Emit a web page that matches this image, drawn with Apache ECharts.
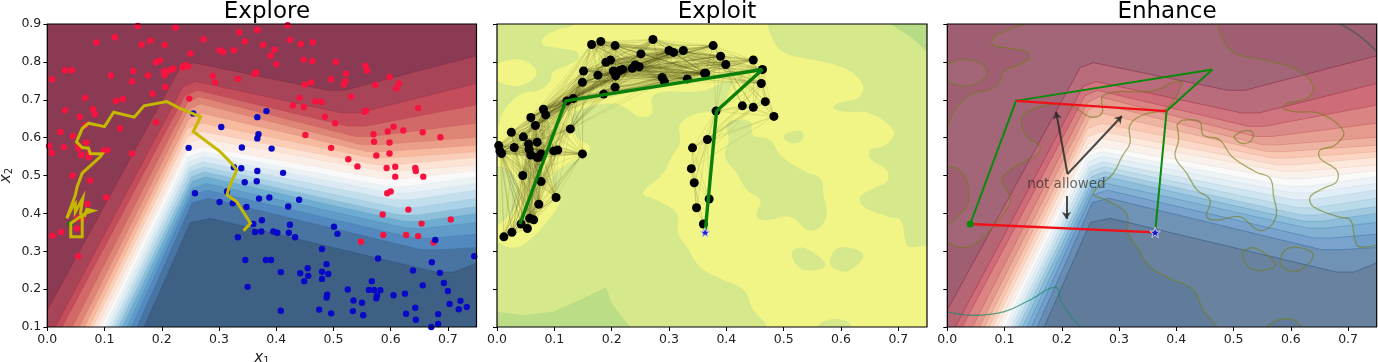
<!DOCTYPE html>
<html><head><meta charset="utf-8">
<style>html,body{margin:0;padding:0;background:#fff}#c{width:1378px;height:362px}</style>
<script src="https://cdn.jsdelivr.net/npm/echarts@6/dist/echarts.min.js"></script>
</head><body><div id="c"></div>
<script>
const titles = ['Explore', 'Exploit', 'Enhance'];
const xTicks = [0, 0.1, 0.2, 0.3, 0.4, 0.5, 0.6, 0.7];
const yTicks = [0.1, 0.2, 0.3, 0.4, 0.5, 0.6, 0.7, 0.8, 0.9];

// decision-surface contour lines, read level by level (red side to blue side)
const surfaceContours = [
 [[0,.145],[.232,.785],[.255,.798],[.49,.725],[.52,.725],[.75,.816]],
 [[.014,.1],[.237,.735],[.26,.748],[.514,.665],[.544,.665],[.75,.743]],
 [[.026,.1],[.24,.71],[.262,.725],[.525,.63],[.555,.63],[.75,.686]],
 [[.044,.1],[.245,.693],[.265,.708],[.538,.603],[.568,.603],[.75,.638]],
 [[.056,.1],[.247,.674],[.268,.689],[.55,.581],[.58,.581],[.75,.601]],
 [[.065,.1],[.248,.65],[.27,.664],[.559,.563],[.589,.563],[.75,.58]],
 [[.073,.1],[.245,.624],[.27,.638],[.568,.546],[.598,.546],[.75,.563]],
 [[.08,.1],[.245,.602],[.27,.616],[.576,.528],[.606,.528],[.75,.548]],
 [[.087,.1],[.246,.584],[.27,.598],[.585,.511],[.615,.511],[.75,.528]],
 [[.094,.1],[.243,.562],[.272,.576],[.59,.491],[.62,.491],[.75,.513]],
 [[.1,.1],[.245,.549],[.272,.563],[.596,.471],[.626,.471],[.75,.497]],
 [[.106,.1],[.247,.536],[.272,.55],[.602,.454],[.632,.454],[.75,.479]],
 [[.112,.1],[.248,.522],[.272,.536],[.606,.436],[.636,.436],[.75,.462]],
 [[.118,.1],[.25,.51],[.274,.523],[.611,.415],[.641,.415],[.75,.44]],
 [[.124,.1],[.252,.497],[.275,.51],[.617,.396],[.647,.396],[.75,.418]],
 [[.131,.1],[.253,.484],[.276,.497],[.623,.379],[.653,.379],[.75,.4]],
 [[.139,.1],[.253,.466],[.278,.479],[.629,.361],[.659,.361],[.75,.376]],
 [[.147,.1],[.252,.448],[.28,.461],[.64,.335],[.67,.335],[.75,.345]],
 [[.157,.1],[.253,.428],[.282,.44],[.654,.304],[.684,.304],[.75,.31]],
 [[.169,.1],[.25,.376],[.285,.387],[.68,.245],[.71,.245],[.75,.269]]
];

const redX = [.158,.224,.42,.118,.086,.335,.367,.273,.165,.18,.205,.345,.377,.424,.443,.464,.397,.301,.307,.326,.39,.25,.448,.504,.4,.19,.197,.031,.043,.008,.111,.15,.148,.176,.204,.205,.214,.22,.236,.241,.246,.289,.293,.333,.362,.365,.463,.556,.559,.522,.521,.518,.496,.461,.45,.573,.598,.614,.61,.206,.184,.066,.12,.132,.248,.031,.08,.083,.057,.066,.127,.19,.023,.045,.029,.003,.008,.054,.055,.068,.059,.072,.073,.098,.105,.148,.044,.075,.103,.07,.054,.061,.052,.024,.009,.054,.429,.441,.448,.468,.479,.531,.485,.503,.451,.554,.557,.648,.57,.595,.605,.622,.656,.687,.571,.598,.496,.575,.598,.526,.542,.593,.608,.643,.644,.608,.657,.6,.594,.631,.586,.654,.705,.587,.627,.648,.548,.675];
const redY = [.895,.891,.897,.865,.851,.878,.884,.86,.846,.856,.845,.854,.845,.858,.847,.852,.832,.831,.826,.831,.816,.822,.806,.8,.794,.799,.804,.778,.778,.754,.764,.776,.748,.764,.775,.765,.778,.782,.785,.791,.788,.763,.746,.755,.768,.772,.802,.789,.777,.769,.749,.74,.754,.746,.74,.739,.76,.743,.73,.734,.716,.705,.697,.702,.703,.672,.675,.662,.655,.633,.624,.641,.615,.604,.575,.578,.56,.58,.571,.587,.554,.549,.558,.565,.567,.558,.5,.487,.442,.425,.387,.387,.36,.351,.341,.287,.685,.705,.681,.696,.694,.708,.655,.638,.607,.668,.671,.678,.609,.616,.629,.619,.614,.601,.589,.587,.573,.553,.558,.543,.524,.52,.523,.52,.512,.497,.497,.458,.453,.41,.397,.373,.384,.343,.343,.34,.325,.323];
const blueX = [.255,.367,.383,.304,.369,.367,.34,.392,.247,.326,.339,.367,.412,.366,.345,.314,.258,.37,.388,.44,.301,.324,.348,.421,.375,.36,.424,.501,.507,.363,.374,.395,.402,.422,.333,.433,.48,.678,.578,.346,.382,.391,.672,.746,.488,.455,.48,.408,.442,.491,.639,.686,.456,.48,.449,.567,.693,.35,.525,.562,.571,.582,.656,.7,.753,.489,.488,.576,.575,.605,.625,.535,.55,.703,.722,.719,.733,.643,.408,.475,.496,.534,.552,.627,.683,.644,.683,.671,.73];
const blueY = [.664,.654,.67,.628,.609,.598,.574,.571,.573,.522,.519,.512,.507,.485,.482,.458,.453,.439,.442,.436,.43,.427,.417,.418,.382,.372,.37,.365,.346,.351,.352,.352,.349,.349,.337,.337,.306,.33,.281,.277,.277,.277,.271,.287,.266,.255,.246,.245,.242,.24,.249,.243,.235,.227,.221,.221,.216,.206,.199,.198,.198,.197,.21,.195,.208,.185,.178,.183,.176,.184,.188,.17,.164,.161,.169,.147,.153,.151,.143,.146,.136,.142,.131,.135,.134,.119,.108,.1,.096];
const searchPath = [[.343,.354],[.355,.374],[.331,.431],[.314,.448],[.317,.466],[.331,.514],[.322,.532],[.302,.563],[.255,.616],[.268,.655],[.232,.677],[.209,.695],[.169,.684],[.152,.654],[.116,.667],[.1,.629],[.072,.638],[.061,.624],[.051,.589],[.061,.574],[.072,.572],[.075,.558],[.096,.557],[.093,.55],[.061,.506],[.052,.47],[.049,.448],[.034,.387],[.044,.418],[.049,.426],[.049,.404],[.062,.44],[.058,.4],[.061,.391],[.061,.338],[.041,.338],[.041,.374],[.066,.4],[.08,.407],[.069,.411],[.065,.391]];

// Exploit: acquisition contours
const contourLeftTop = [[0,.629],[.008,.66],[.022,.69],[.045,.717],[.075,.726],[.092,.748],[.098,.774],[.124,.792],[.142,.809],[.139,.827],[.109,.836],[.08,.845],[.08,.862],[.104,.884],[.136,.9]];
const contourRight = [[.472,.9],[.479,.867],[.491,.836],[.511,.818],[.552,.805],[.599,.787],[.628,.761],[.639,.73],[.628,.704],[.593,.69],[.587,.677],[.61,.668],[.651,.664],[.692,.616],[.677,.58],[.651,.567],[.651,.545],[.68,.514],[.68,.484],[.657,.466],[.634,.444],[.639,.418],[.683,.391],[.704,.382],[.712,.33],[.718,.312],[.75,.316]];
const contourBottomNotch = [[.619,.1],[.605,.118],[.581,.12],[.558,.1]];
const contourCentre = [[.472,.1],[.447,.145],[.43,.198],[.389,.228],[.354,.259],[.331,.312],[.316,.347],[.313,.4],[.278,.435],[.255,.453],[.29,.506],[.305,.55],[.319,.585],[.319,.633],[.342,.66],[.383,.677],[.407,.73],[.409,.748],[.389,.743],[.366,.726],[.331,.721],[.296,.721],[.271,.708],[.27,.664],[.249,.655],[.226,.677],[.203,.69],[.162,.682],[.133,.66],[.13,.633],[.139,.602],[.162,.576],[.156,.554],[.144,.545],[.109,.514],[.095,.488],[.107,.453],[.109,.426],[.08,.365],[.057,.33],[.034,.31],[.01,.316],[0,.325]];
const contourLeftLobe = [[0,.369],[.018,.391],[.036,.426],[.036,.479],[.021,.514],[0,.525]];
const yellowIsland = [[-.01,.783],[.022,.805],[.051,.801],[.069,.774],[.057,.748],[.028,.736],[-.01,.761]];
const greenLobeBig = [[.401,.633],[.412,.646],[.441,.642],[.447,.607],[.476,.594],[.497,.55],[.538,.51],[.564,.492],[.57,.444],[.575,.4],[.564,.365],[.543,.356],[.511,.391],[.471,.382],[.453,.391],[.459,.435],[.436,.462],[.418,.506],[.398,.55],[.404,.594]];
const greenLobeSmall = [[.5,.602],[.514,.616],[.532,.616],[.532,.594],[.514,.585]];
const greenLobeLow1 = [[.515,.299],[.538,.308],[.573,.264],[.543,.249],[.523,.264]];
const greenLobeLow2 = [[.581,.268],[.59,.303],[.613,.31],[.639,.29],[.616,.25],[.596,.249]];
const darkTopRight = [[.686,.9],[.721,.867],[.75,.827]];
const darkBottomLeft = [[0,.14],[.045,.131],[.098,.14],[.144,.171],[.19,.205],[.2,.162],[.232,.1]];

// main swarm, then the smaller group on the right
const swarmX = [.165,.181,.206,.272,.377,.3,.308,.325,.251,.39,.399,.447,.463,.198,.19,.151,.176,.149,.206,.203,.207,.214,.219,.236,.241,.248,.288,.292,.332,.362,.364,.461,.186,.122,.133,.081,.085,.059,.067,.025,.046,.07,.128,.055,.03,.003,.005,.008,.056,.059,.07,.077,.073,.099,.106,.149,.045,.077,.103,.073,.057,.064,.053,.042,.026,.012,.382,.428,.447,.468,.483,.367,.341,.339,.344,.37,.348,.36];
const swarmY = [.846,.854,.843,.859,.843,.83,.825,.83,.821,.815,.793,.805,.78,.805,.799,.776,.765,.746,.733,.776,.763,.777,.78,.783,.792,.787,.759,.748,.755,.77,.77,.743,.715,.697,.703,.675,.66,.653,.632,.614,.602,.588,.623,.583,.574,.579,.565,.558,.569,.554,.548,.557,.548,.565,.567,.557,.5,.484,.442,.424,.387,.383,.36,.372,.35,.338,.67,.684,.68,.695,.656,.595,.573,.518,.481,.438,.415,.372];
const rightGroupStart = 66;
const bestPath = [[.04,.372],[.12,.697],[.463,.78],[.383,.67],[.363,.35]];
const incumbent = [[.363,.35]];
const startPoint = [[.04,.372]];
const redLinks = [[[.04,.372],[.363,.35]],[[.12,.697],[.383,.67]]];
const arrowLinks = [[[.21,.504],[.19,.668]],[[.21,.504],[.305,.657]],[[.208,.446],[.208,.385]]];
const noteSpot = [[.208,.477]];
const noteText = 'not allowed';

// ---- helpers
const XMIN=0,XMAX=.75,YMIN=.1,YMAX=.9;
const RdBu=[[103,0,31],[178,24,43],[214,96,77],[244,165,130],[253,219,199],[247,247,247],[209,229,240],[146,197,222],[67,147,195],[33,102,172],[5,48,97]];
function rdbu(t){const p=Math.min(t,.9999)*10,i=Math.floor(p),f=p-i;return RdBu[i].map((c,k)=>c+(RdBu[i+1][k]-c)*f);}
function bandColor(i,a){const c=rdbu(i/20).map(v=>Math.round(v*a+255*(1-a)));return `rgb(${c})`;}
function lineColor(i,a){const c=rdbu((i+.5)/20).map(v=>Math.round(v*.9));return `rgba(${c},${a})`;}

const FONT='"DejaVu Sans"';
const L=[47.3,497,947.3],W=[429.2,430,429.4];
const grids=L.map((l,i)=>({left:l,width:W[i],top:24,height:303,containLabel:false,outerBoundsMode:'none'}));
const xAxes=L.map((l,i)=>({gridIndex:i,type:'value',min:XMIN,max:XMAX,
  splitLine:{show:false},axisLine:{show:false,onZero:false},
  axisTick:{show:true,length:4,lineStyle:{color:'#000',width:1},customValues:xTicks},
  axisLabel:{color:'#222',fontFamily:FONT,fontSize:12.5,margin:6,customValues:xTicks,formatter:v=>v.toFixed(1)},
  ...(i==0?{name:'{i|x}{s|1}',nameLocation:'middle',nameGap:21,nameTextStyle:{rich:{i:{fontFamily:FONT,fontStyle:'italic',fontSize:15,color:'#222'},s:{fontFamily:FONT,fontSize:10,color:'#222',padding:[6,0,0,0]}}}}:{})
}));
const yAxes=L.map((l,i)=>({gridIndex:i,type:'value',min:YMIN,max:YMAX,interval:.1,
  splitLine:{show:false},axisLine:{show:false,onZero:false},
  axisTick:{show:true,length:4,lineStyle:{color:'#000',width:1}},
  axisLabel:{show:i==0,color:'#222',fontFamily:FONT,fontSize:12.5,margin:6,formatter:v=>v.toFixed(1)},
  ...(i==0?{name:'{i|x}{s|2}',nameLocation:'middle',nameGap:33,nameRotate:90,nameTextStyle:{rich:{i:{fontFamily:FONT,fontStyle:'italic',fontSize:15,color:'#222'},s:{fontFamily:FONT,fontSize:10,color:'#222',padding:[6,0,0,0]}}}}:{})
}));

function custom(g,z,build){return {type:'custom',xAxisIndex:g,yAxisIndex:g,z,clip:true,silent:true,
  data:[[XMIN,YMIN]],encode:{x:0,y:1},renderItem:(p,api)=>{
    const P=pts=>pts.map(q=>api.coord(q));
    return {type:'group',children:build(P)};
  }};}
function poly(pts,fill,smooth){return {type:'polygon',shape:{points:pts,smooth:smooth||0},style:{fill}};}
function stroke(pts,color,w,smooth){return {type:'polyline',shape:{points:pts,smooth:smooth||0},style:{stroke:color,fill:null,lineWidth:w}};}
const fullRect=[[XMIN,YMIN],[XMAX,YMIN],[XMAX,YMAX],[XMIN,YMAX]];

function surfacePolys(P){
  const out=[poly(P(fullRect),bandColor(20,ALPHA))];
  for(let i=surfaceContours.length-1;i>=0;i--){
    out.push(poly(P([...surfaceContours[i],[XMAX,YMAX],[XMIN,YMAX],[XMIN,YMIN]]),bandColor(i,ALPHA)));
  }
  return out;
}
const ALPHA=.77, SM=.4;
function surfaceLines(P,a){
  return surfaceContours.map((c,i)=>stroke(P(c),lineColor(i,a),.8));
}
// the plot-edge stretches of the yellow area run just outside the axes; the plot clip trims them
const yellowMain=[...contourLeftTop,[.136,.94],[.472,.94],...contourRight,[.79,.316],[.79,.06],[.619,.06],...contourBottomNotch,[.558,.06],[.472,.06],...contourCentre,[-.04,.325],[-.04,.369],...contourLeftLobe,[-.04,.525],[-.04,.629]];
const acqLines=[contourLeftTop,contourRight,contourBottomNotch,contourCentre,contourLeftLobe];
const greenLobes=[greenLobeBig,greenLobeSmall,greenLobeLow1,greenLobeLow2];

// swarm web links come from the swarm points themselves
const swarm=swarmX.map((x,i)=>[x,swarmY[i]]);
const webLinks=[];
for(let i=0;i<swarm.length;i++)for(let j=i+1;j<swarm.length;j++){
  const dx=swarm[i][0]-swarm[j][0],dy=swarm[i][1]-swarm[j][1];
  const d=Math.hypot(dx,dy);
  const bothMain=j<rightGroupStart, bothRight=i>=rightGroupStart;
  const mixed=!bothMain&&!bothRight;
  if(bothMain&&d<.24&&!(Math.min(swarm[i][1],swarm[j][1])<.62&&Math.max(swarm[i][0],swarm[j][0])>.16)) webLinks.push({coords:[swarm[i],swarm[j]]});
  else if(bothRight&&d<.2) webLinks.push({coords:[swarm[i],swarm[j]]});
  else if(mixed&&swarm[i][0]>.37&&d<.2) webLinks.push({coords:[swarm[i],swarm[j]]});
}
const STAR='path://M12 0 L15 9 L24 9 L17 14.5 L19.5 23 L12 17.5 L4.5 23 L7 14.5 L0 9 L9 9 Z';
function frame(g){return custom(g,30,P=>[{type:'polygon',shape:{points:P(fullRect)},style:{fill:null,stroke:'#000',lineWidth:1.2}}]);}
const frames=[0,1,2].map(g=>{const s=frame(g);s.clip=false;return s;});

const series=[
 // Explore
 custom(0,1,surfacePolys),
 custom(0,2,P=>surfaceLines(P,.25)),
 {type:'scatter',xAxisIndex:0,yAxisIndex:0,z:5,symbolSize:6.4,itemStyle:{color:'#f8123f',opacity:1},data:redX.map((x,i)=>[x,redY[i]])},
 {type:'scatter',xAxisIndex:0,yAxisIndex:0,z:5,symbolSize:6.4,itemStyle:{color:'#0808c6',opacity:1},data:blueX.map((x,i)=>[x,blueY[i]])},
 {type:'scatter',xAxisIndex:0,yAxisIndex:0,z:6,symbolSize:6,itemStyle:{color:'#0a7a10',opacity:1},data:startPoint},
 {type:'line',xAxisIndex:0,yAxisIndex:0,z:7,showSymbol:false,symbol:'none',lineStyle:{color:'#c4b800',width:3,join:'miter'},data:searchPath},
 // Exploit
 custom(1,1,P=>[
   poly(P(fullRect),'#d5e88c'),
   poly(P([...darkTopRight,[XMAX,YMAX]]),'#b6dc86'),
   poly(P([...darkBottomLeft,[XMIN,YMIN]]),'#bbdd86'),
   poly(P(yellowMain),'#f0f585',SM),
   poly(P(yellowIsland),'#f0f585',SM),
   ...greenLobes.map(g=>poly(P(g),'#d5e88c',SM))
 ]),
 {type:'lines',xAxisIndex:1,yAxisIndex:1,coordinateSystem:'cartesian2d',z:3,silent:true,lineStyle:{color:'#2e2e00',width:.6,opacity:.17},data:webLinks},
 {type:'scatter',xAxisIndex:1,yAxisIndex:1,z:5,symbolSize:9,itemStyle:{color:'#000',opacity:1},data:swarm},
 {type:'line',xAxisIndex:1,yAxisIndex:1,z:6,symbol:'none',showSymbol:false,lineStyle:{color:'#0a800a',width:3.4},data:bestPath},
 {type:'scatter',xAxisIndex:1,yAxisIndex:1,z:7,symbol:STAR,symbolSize:9.5,itemStyle:{color:'#1a1ad0',borderColor:'#c9c9ee',borderWidth:1,opacity:1},data:incumbent},
 // Enhance
 custom(2,1,surfacePolys),
 custom(2,2,P=>[poly(P(fullRect),'rgba(255,255,255,.18)'),poly(P(yellowMain),'rgba(255,255,255,.05)',SM),poly(P(yellowIsland),'rgba(255,255,255,.05)',SM)]),
 custom(2,3,P=>surfaceLines(P,.45)),
 custom(2,4,P=>[
   ...acqLines.map(l=>stroke(P(l),'rgba(115,125,25,.6)',1.3,SM)),
   stroke(P(yellowIsland.concat([yellowIsland[0]])),'rgba(115,125,25,.6)',1.3,SM),
   ...greenLobes.map(g=>stroke(P(g.concat([g[0]])),'rgba(115,125,25,.6)',1.3,SM)),
   stroke(P(darkBottomLeft),'rgba(30,135,110,.7)',1.3,SM),
   stroke(P(darkTopRight),'rgba(50,90,50,.7)',1.3,SM)
 ]),
 {type:'lines',xAxisIndex:2,yAxisIndex:2,coordinateSystem:'cartesian2d',z:5,silent:true,symbol:['none','arrow'],symbolSize:[0,7],lineStyle:{color:'#2b2b2b',width:2,opacity:.85},data:arrowLinks.map(c=>({coords:c}))},
 {type:'line',xAxisIndex:2,yAxisIndex:2,z:6,symbol:'none',showSymbol:false,lineStyle:{color:'#0a8a0a',width:2},data:bestPath},
 {type:'lines',xAxisIndex:2,yAxisIndex:2,coordinateSystem:'cartesian2d',z:7,silent:true,lineStyle:{color:'#f01018',width:2.3,opacity:1},data:redLinks.map(c=>({coords:c}))},
 {type:'scatter',xAxisIndex:2,yAxisIndex:2,z:8,symbolSize:7,itemStyle:{color:'#0a8a0a',opacity:1},data:startPoint},
 {type:'scatter',xAxisIndex:2,yAxisIndex:2,z:8,symbol:STAR,symbolSize:10.5,itemStyle:{color:'#1a1ad0',borderColor:'#c9c9ee',borderWidth:1,opacity:1},data:incumbent},
 {type:'scatter',xAxisIndex:2,yAxisIndex:2,z:9,symbolSize:0,silent:true,data:noteSpot,label:{show:true,position:'inside',formatter:noteText,fontFamily:FONT,fontSize:13.5,color:'rgba(40,40,40,.85)'}},
 ...frames
];
const chart=echarts.init(document.getElementById('c'),null,{renderer:'canvas'});
chart.setOption({
 animation:false,backgroundColor:'#fff',
 title:titles.map((t,i)=>({text:t,left:L[i]+W[i]/2,top:-4,textAlign:'center',textStyle:{fontFamily:FONT,fontSize:23,fontWeight:'normal',color:'#000'}})),
 grid:grids,xAxis:xAxes,yAxis:yAxes,series
});
</script></body></html>
